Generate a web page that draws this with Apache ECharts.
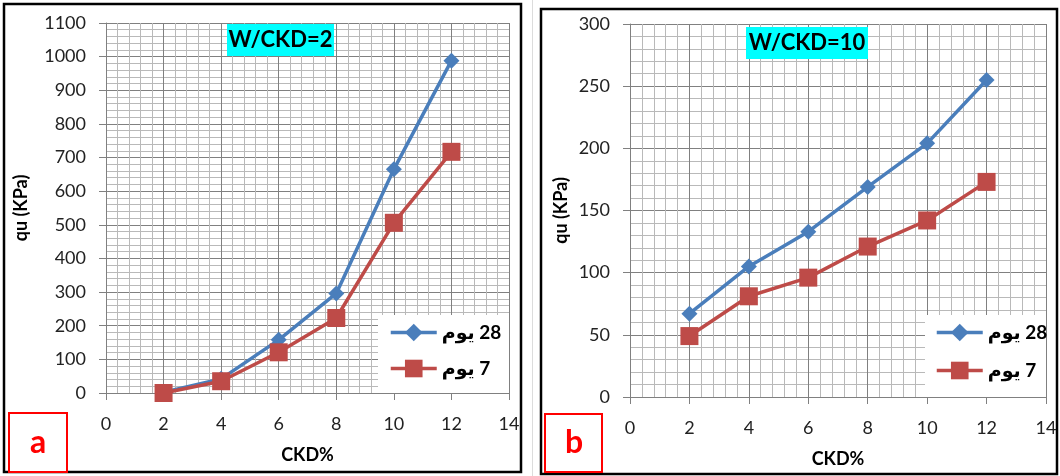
<!DOCTYPE html>
<html>
<head>
<meta charset="utf-8">
<script src="https://cdn.jsdelivr.net/npm/echarts@6/dist/echarts.min.js"></script>
<style>
  html, body { margin: 0; padding: 0; background: #fff; }
  #chart { width: 1060px; height: 476px; }
</style>
</head>
<body>
<div id="chart"></div>
<script>
// CKD content (%) on the x axis
const ckd = [2, 4, 6, 8, 10, 12];

// Panel a, W/CKD = 2: unconfined compressive strength (kPa)
const qu28A = [2, 42, 158, 296, 665, 988];
const qu7A = [0, 35, 121, 223, 506, 717];

// Panel b, W/CKD = 10
const qu28B = [67, 105, 133, 169, 204, 255];
const qu7B = [49, 81, 96, 121, 142, 173];

const seriesNames = ['28 يوم', '7 يوم'];
const panelTitles = ['W/CKD=2', 'W/CKD=10'];
const panelLetters = ['a', 'b'];
const xName = 'CKD%';
const yName = 'qu (KPa)';
const xRange = [0, 14, 2];
const yRangeA = [0, 1100, 100];
const yRangeB = [0, 300, 50];

const FONT = 'Lato, "DejaVu Sans", sans-serif';
const BLUE = '#4A7EBB';
const RED = '#BE4B48';
const MAJOR = '#808080';
const MINOR = '#b9b9b9';

const pairs = (ys) => ckd.map((x, i) => [x, ys[i]]);

function xAxis(gridIndex) {
  return {
    gridIndex, type: 'value', min: xRange[0], max: xRange[1], interval: xRange[2],
    name: xName, nameLocation: 'middle', nameGap: 53,
    nameTextStyle: { fontFamily: FONT, fontWeight: 'bold', fontSize: 18, color: '#000' },
    axisLine: { lineStyle: { color: MAJOR, width: 1 } },
    axisTick: { show: true, length: 7, lineStyle: { color: MAJOR } },
    axisLabel: { fontFamily: FONT, fontSize: 18, color: '#222', margin: 22 },
    splitLine: { show: true, lineStyle: { color: MAJOR, width: 1 } },
    minorTick: { show: false, splitNumber: 5 },
    minorSplitLine: { show: true, lineStyle: { color: MINOR, width: 1 } }
  };
}

function yAxis(gridIndex, range, gap) {
  return {
    gridIndex, type: 'value', min: range[0], max: range[1], interval: range[2],
    name: yName, nameLocation: 'middle', nameGap: gap,
    nameTextStyle: { fontFamily: FONT, fontWeight: 'bold', fontSize: 18, color: '#000' },
    axisLine: { show: true, lineStyle: { color: MAJOR, width: 1 } },
    axisTick: { show: true, length: 7, lineStyle: { color: MAJOR } },
    axisLabel: { fontFamily: FONT, fontSize: 18, color: '#222', margin: 20, formatter: (v) => String(v) },
    splitLine: { show: true, lineStyle: { color: MAJOR, width: 1 } },
    minorTick: { show: false, splitNumber: 5 },
    minorSplitLine: { show: true, lineStyle: { color: MINOR, width: 1 } }
  };
}

function lineSeries(name, idx, ys, color, symbol, size) {
  return {
    name, type: 'line', xAxisIndex: idx, yAxisIndex: idx, data: pairs(ys),
    symbol, symbolSize: size, showAllSymbol: true,
    lineStyle: { color, width: 3.5 },
    itemStyle: { color, borderWidth: 0 },
    emphasis: { disabled: true }
  };
}

// legend entries are right-to-left labels: a leading RLM keeps the number on the right
function legend(left, top, gap) {
  return {
    data: seriesNames, orient: 'vertical', left, top, padding: 0,
    itemWidth: 46, itemHeight: 22, itemGap: gap,
    formatter: (name) => '\u200F' + name,
    lineStyle: { width: 3.5 },
    textStyle: { fontFamily: FONT, fontWeight: 'bold', fontSize: 19, color: '#000' },
    selectedMode: false
  };
}

function titleBox(x, y, w, h, text) {
  return [
    { type: 'rect', shape: { x, y, width: w, height: h }, style: { fill: '#00FFFF' }, z: 5 },
    { type: 'text', x: x + w / 2, y: y + h / 2, z: 6,
      style: { text, fill: '#000', font: 'bold 22px ' + FONT, textAlign: 'center', textVerticalAlign: 'middle' } }
  ];
}

function letterBox(x, y, w, h, text, cx, cy) {
  return [
    { type: 'rect', shape: { x, y, width: w, height: h }, style: { fill: '#fff', stroke: '#FF0000', lineWidth: 2 }, z: 5 },
    { type: 'text', x: cx, y: cy, z: 6,
      style: { text, fill: '#FF0000', font: 'bold 32px ' + FONT, textAlign: 'center', textVerticalAlign: 'middle' } }
  ];
}

const chart = echarts.init(document.getElementById('chart'), null, { renderer: 'canvas' });
chart.setOption({
  animation: false,
  backgroundColor: '#fff',
  grid: [
    { left: 106, top: 23, width: 403, height: 370 },
    { left: 630, top: 24, width: 416, height: 373 }
  ],
  xAxis: [xAxis(0), xAxis(1)],
  yAxis: [yAxis(0, yRangeA, 76), yAxis(1, yRangeB, 60)],
  legend: [legend(389, 323, 17), legend(935, 323, 19)],
  series: [
    lineSeries(seriesNames[0], 0, qu28A, BLUE, 'diamond', 16),
    lineSeries(seriesNames[1], 0, qu7A, RED, 'rect', 18),
    lineSeries(seriesNames[0], 1, qu28B, BLUE, 'diamond', 16),
    lineSeries(seriesNames[1], 1, qu7B, RED, 'rect', 18)
  ],
  graphic: { elements: [
    // chart frames
    { type: 'rect', shape: { x: 4, y: 4, width: 517, height: 468 }, style: { fill: 'none', stroke: '#000', lineWidth: 2.5 }, z: 5 },
    { type: 'rect', shape: { x: 541, y: 9, width: 516, height: 465 }, style: { fill: 'none', stroke: '#000', lineWidth: 2.5 }, z: 5 },
    { type: 'line', shape: { x1: 532.5, y1: 0, x2: 532.5, y2: 476 }, style: { stroke: '#dcdcdc', lineWidth: 1 }, z: 5 },
    // legend backgrounds
    { type: 'rect', shape: { x: 378, y: 315, width: 131, height: 78 }, style: { fill: '#fff' }, z: 3 },
    { type: 'rect', shape: { x: 925, y: 315, width: 121, height: 82 }, style: { fill: '#fff' }, z: 3 },
    ...titleBox(227, 24, 107, 32, panelTitles[0]),
    ...titleBox(746, 27, 122, 32, panelTitles[1]),
    ...letterBox(9, 413, 58, 59, panelLetters[0], 38, 443),
    ...letterBox(545, 414, 57, 58, panelLetters[1], 574, 443)
  ] }
});
</script>
</body>
</html>
